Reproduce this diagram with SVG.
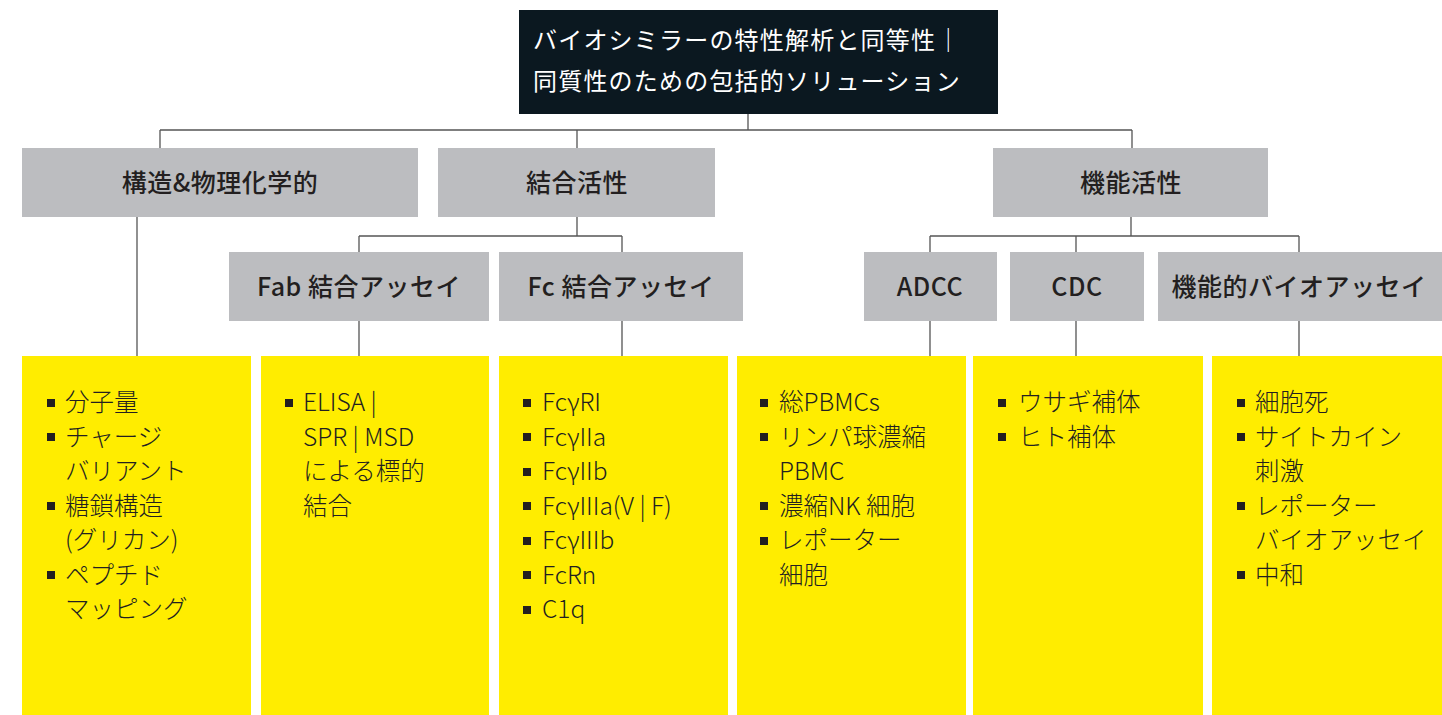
<svg xmlns="http://www.w3.org/2000/svg" width="1442" height="715" viewBox="0 0 1442 715">
<style>
.t{font-family:"Noto Sans CJK JP","Noto Sans",sans-serif;}
.title{fill:#ffffff;font-size:24px;letter-spacing:1.2px;}
.gray{fill:#bcbdc0;}
.yel{fill:#ffed00;}
.h{fill:#231f20;font-size:25px;font-weight:500;text-anchor:middle;letter-spacing:0.5px;}
.b{fill:#231f20;font-size:24.5px;font-weight:300;}
.bul{fill:#231f20;}
.ln{stroke:#555555;stroke-width:1.3;fill:none;}
</style>
<rect width="1442" height="715" fill="#ffffff"/>
<g id="connectors">
<path class="ln" d="M748 114V130M160 130H1132M160 130V148M577 130V148M1132 130V148"/>
<path class="ln" d="M137 217V356"/>
<path class="ln" d="M577 217V236M359 236H622M359 236V252M622 236V252M359 321V356M622 321V356"/>
<path class="ln" d="M1131 217V236M930 236H1299M930 236V252M1076 236V252M1299 236V252M930 321V356M1076 321V356M1299 321V356"/>
</g>
<g id="title">
<rect x="519" y="10" width="479" height="104" fill="#0b1820"/>
<text class="t title" x="533" y="49">バイオシミラーの特性解析と同等性｜</text>
<text class="t title" x="533" y="90">同質性のための包括的ソリューション</text>
</g>
<g id="n-struct">
<rect class="gray" x="22" y="148" width="396" height="69"/>
<text class="t h" x="220" y="192">構造&amp;物理化学的</text>
</g>
<g id="n-binding">
<rect class="gray" x="438" y="148" width="277" height="69"/>
<text class="t h" x="577" y="192">結合活性</text>
</g>
<g id="n-func">
<rect class="gray" x="993" y="148" width="275" height="69"/>
<text class="t h" x="1131" y="192">機能活性</text>
</g>
<g id="n-fab">
<rect class="gray" x="229" y="252" width="260" height="69"/>
<text class="t h" x="359" y="296">Fab 結合アッセイ</text>
</g>
<g id="n-fc">
<rect class="gray" x="499" y="252" width="244" height="69"/>
<text class="t h" x="621" y="296">Fc 結合アッセイ</text>
</g>
<g id="n-adcc">
<rect class="gray" x="864" y="252" width="133" height="69"/>
<text class="t h" x="930" y="296">ADCC</text>
</g>
<g id="n-cdc">
<rect class="gray" x="1010" y="252" width="134" height="69"/>
<text class="t h" x="1077" y="296">CDC</text>
</g>
<g id="n-bioassay">
<rect class="gray" x="1158" y="252" width="284" height="69"/>
<text class="t h" x="1299" y="296">機能的バイオアッセイ</text>
</g>
<g id="y-struct">
<rect class="yel" x="22" y="356" width="229" height="359"/>
<rect class="bul" x="47" y="399" width="8" height="8"/>
<rect class="bul" x="47" y="433" width="8" height="8"/>
<rect class="bul" x="47" y="502" width="8" height="8"/>
<rect class="bul" x="47" y="571" width="8" height="8"/>
<text class="t b" x="65" y="411">分子量</text>
<text class="t b" x="65" y="445.5">チャージ</text>
<text class="t b" x="65" y="480">バリアント</text>
<text class="t b" x="65" y="514.5">糖鎖構造</text>
<text class="t b" x="65" y="549">(グリカン)</text>
<text class="t b" x="65" y="583.5">ペプチド</text>
<text class="t b" x="65" y="618">マッピング</text>
</g>
<g id="y-fab">
<rect class="yel" x="261" y="356" width="228" height="359"/>
<rect class="bul" x="285" y="399" width="8" height="8"/>
<text class="t b" x="303" y="411">ELISA |</text>
<text class="t b" x="303" y="445.5">SPR | MSD</text>
<text class="t b" x="303" y="480">による標的</text>
<text class="t b" x="303" y="514.5">結合</text>
</g>
<g id="y-fc">
<rect class="yel" x="499" y="356" width="229" height="359"/>
<rect class="bul" x="523" y="399" width="8" height="8"/>
<rect class="bul" x="523" y="433" width="8" height="8"/>
<rect class="bul" x="523" y="468" width="8" height="8"/>
<rect class="bul" x="523" y="502" width="8" height="8"/>
<rect class="bul" x="523" y="537" width="8" height="8"/>
<rect class="bul" x="523" y="571" width="8" height="8"/>
<rect class="bul" x="523" y="606" width="8" height="8"/>
<text class="t b" x="542" y="411">FcγRI</text>
<text class="t b" x="542" y="445.5">FcγIIa</text>
<text class="t b" x="542" y="480">FcγIIb</text>
<text class="t b" x="542" y="514.5">FcγIIIa(V | F)</text>
<text class="t b" x="542" y="549">FcγIIIb</text>
<text class="t b" x="542" y="583.5">FcRn</text>
<text class="t b" x="542" y="618">C1q</text>
</g>
<g id="y-adcc">
<rect class="yel" x="737" y="356" width="229" height="359"/>
<rect class="bul" x="760" y="399" width="8" height="8"/>
<rect class="bul" x="760" y="433" width="8" height="8"/>
<rect class="bul" x="760" y="502" width="8" height="8"/>
<rect class="bul" x="760" y="537" width="8" height="8"/>
<text class="t b" x="779" y="411">総PBMCs</text>
<text class="t b" x="779" y="445.5">リンパ球濃縮</text>
<text class="t b" x="779" y="480">PBMC</text>
<text class="t b" x="779" y="514.5">濃縮NK 細胞</text>
<text class="t b" x="779" y="549">レポーター</text>
<text class="t b" x="779" y="583.5">細胞</text>
</g>
<g id="y-cdc">
<rect class="yel" x="973" y="356" width="230" height="359"/>
<rect class="bul" x="998" y="399" width="8" height="8"/>
<rect class="bul" x="998" y="433" width="8" height="8"/>
<text class="t b" x="1018" y="411">ウサギ補体</text>
<text class="t b" x="1018" y="445.5">ヒト補体</text>
</g>
<g id="y-bioassay">
<rect class="yel" x="1212" y="356" width="230" height="359"/>
<rect class="bul" x="1237" y="399" width="8" height="8"/>
<rect class="bul" x="1237" y="433" width="8" height="8"/>
<rect class="bul" x="1237" y="502" width="8" height="8"/>
<rect class="bul" x="1237" y="571" width="8" height="8"/>
<text class="t b" x="1255" y="411">細胞死</text>
<text class="t b" x="1255" y="445.5">サイトカイン</text>
<text class="t b" x="1255" y="480">刺激</text>
<text class="t b" x="1255" y="514.5">レポーター</text>
<text class="t b" x="1255" y="549">バイオアッセイ</text>
<text class="t b" x="1255" y="583.5">中和</text>
</g>
</svg>
